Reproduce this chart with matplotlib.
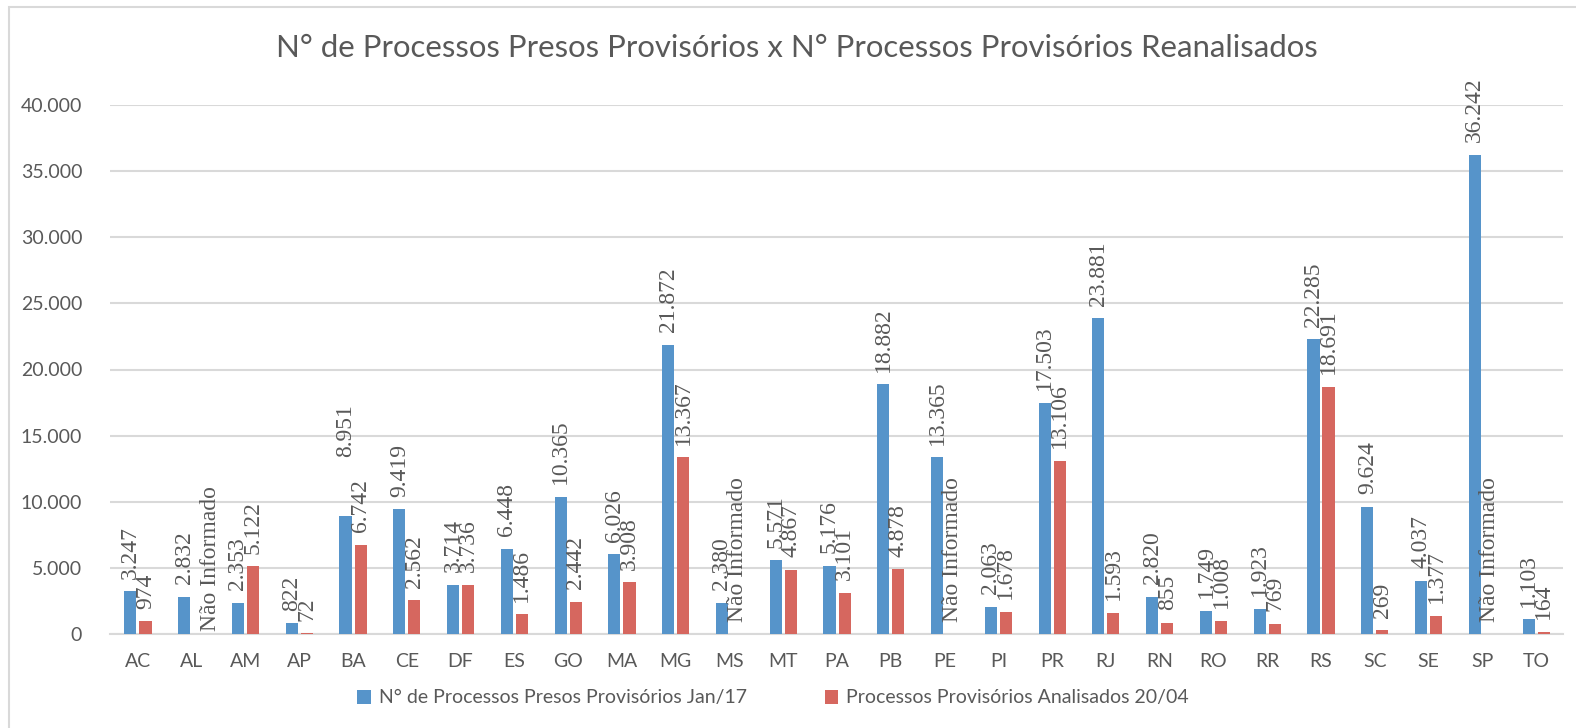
import matplotlib.pyplot as plt
import matplotlib.ticker as ticker
from matplotlib.patches import Rectangle
import numpy as np

states = ["AC", "AL", "AM", "AP", "BA", "CE", "DF", "ES", "GO", "MA", "MG", "MS", "MT",
          "PA", "PB", "PE", "PI", "PR", "RJ", "RN", "RO", "RR", "RS", "SC", "SE", "SP", "TO"]
presos = [3247, 2832, 2353, 822, 8951, 9419, 3714, 6448, 10365, 6026, 21872, 2380, 5571,
          5176, 18882, 13365, 2063, 17503, 23881, 2820, 1749, 1923, 22285, 9624, 4037, 36242, 1103]
# None = "Não Informado"
analisados = [974, None, 5122, 72, 6742, 2562, 3736, 1486, 2442, 3908, 13367, None, 4867,
              3101, 4878, None, 1678, 13106, 1593, 855, 1008, 769, 18691, 269, 1377, None, 164]

label_presos = "N° de Processos Presos Provisórios Jan/17"
label_analisados = "Processos Provisórios Analisados 20/04"
title = "N° de Processos Presos Provisórios x N° Processos Provisórios Reanalisados"

BLUE = "#5694CA"
RED = "#D6675F"
GRAY = "#595959"
SANS = ["Lato", "DejaVu Sans"]
SERIF = ["Liberation Serif", "DejaVu Serif"]

# labels that were moved by hand in the original (dx, dy in points)
blue_offset = {"BA": (0, 42)}
red_offset = {"AL": (8, 2)}


def fmt(v):
    return f"{v:,}".replace(",", ".")


fig = plt.figure(figsize=(15.76, 7.28), dpi=100)
ax = fig.add_axes([110 / 1576, 1 - 634 / 728, (1563 - 110) / 1576, (634 - 105) / 728])

x = np.arange(len(states))
w = 0.225
off = 0.14
vals_r = [v if v is not None else 0 for v in analisados]
b1 = ax.bar(x - off, presos, w, color=BLUE, label=label_presos, zorder=3)
b2 = ax.bar(x + off, vals_r, w, color=RED, label=label_analisados, zorder=3)

for xi, st, v in zip(x, states, presos):
    ax.annotate(fmt(v), (xi - off, v), textcoords="offset points",
                xytext=blue_offset.get(st, (0, 9)), rotation=90, ha="center", va="bottom",
                fontsize=17, family=SERIF, color=GRAY)
for xi, st, v in zip(x, states, analisados):
    txt = fmt(v) if v is not None else "Não Informado"
    yv = v if v is not None else 0
    ax.annotate(txt, (xi + off, yv), textcoords="offset points",
                xytext=red_offset.get(st, (0, 9)), rotation=90, ha="center", va="bottom",
                fontsize=17, family=SERIF, color=GRAY)

ax.set_ylim(0, 40000)
ax.set_xlim(-0.52, 26.5)
ax.yaxis.set_major_locator(ticker.MultipleLocator(5000))
ax.yaxis.set_major_formatter(ticker.FuncFormatter(lambda v, p: fmt(int(v))))
ax.set_xticks(x)
ax.set_xticklabels(states)
ax.tick_params(axis="both", length=0, labelsize=14, labelcolor=GRAY)
ax.tick_params(axis="x", pad=14)
ax.tick_params(axis="y", pad=20)
for lab in ax.get_xticklabels() + ax.get_yticklabels():
    lab.set_family(SANS)
ax.grid(axis="y", color="#D9D9D9", linewidth=1.5, zorder=0)
for s in ["top", "right", "left"]:
    ax.spines[s].set_visible(False)
ax.spines["bottom"].set_color("#D9D9D9")
ax.spines["bottom"].set_linewidth(1.5)

fig.text(797 / 1576, 1 - 48 / 728, title, ha="center", va="center",
         fontsize=22.4, color=GRAY, family=SANS)

leg = fig.legend(handles=[b1, b2], loc="center", bbox_to_anchor=(773 / 1576, 1 - 698 / 728),
                 ncol=2, frameon=False, prop={"family": SANS, "size": 14},
                 handlelength=0.7, handleheight=0.7, handletextpad=0.4, columnspacing=4.0)
for t in leg.get_texts():
    t.set_color(GRAY)

fig.patches.append(Rectangle((9 / 1576, -0.1), 1.2, 1 - 7 / 728 + 0.1, transform=fig.transFigure,
                             fill=False, edgecolor="#D9D9D9", linewidth=1.5))

fig.savefig("out.png", dpi=100)
